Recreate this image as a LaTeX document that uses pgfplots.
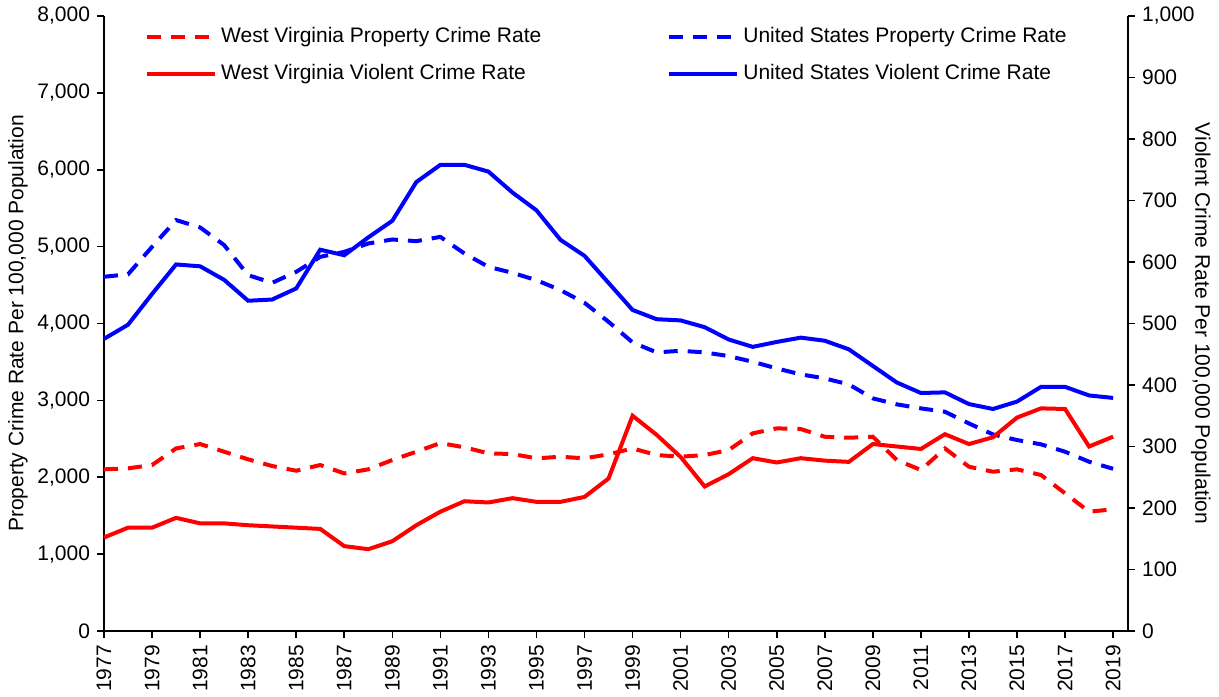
\documentclass[border=0pt]{standalone}
\usepackage{fontspec}
\setmainfont{Liberation Sans}
\usepackage{pgfplots}
\pgfplotsset{compat=1.18}
\usepackage{pgfplotstable}
\pgfplotstableread{
year wvp usp wvv usv
1977 2103 4608 152 475
1978 2116 4640 168 498
1979 2159 4997 168 548
1980 2375 5345 184 596
1981 2432 5250 175 593
1982 2332 5020 175 571
1983 2233 4629 172 537
1984 2146 4529 170 539
1985 2085 4672 168 557
1986 2159 4867 166 620
1987 2050 4932 138 611
1988 2103 5041 133 640
1989 2224 5093 146 667
1990 2332 5071 172 730
1991 2445 5127 194 758
1992 2389 4911 211 758
1993 2311 4737 209 747
1994 2302 4659 216 713
1995 2246 4564 210 684
1996 2267 4434 210 636
1997 2246 4269 218 610
1998 2298 4022 248 566
1999 2375 3754 350 522
2000 2289 3624 319 507
2001 2267 3645 283 505
2002 2289 3624 235 494
2003 2354 3576 255 474
2004 2571 3502 281 462
2005 2636 3416 274 470
2006 2627 3338 281 477
2007 2527 3286 277 472
2008 2514 3208 275 458
2009 2527 3026 304 431
2010 2224 2948 300 404
2011 2094 2896 296 387
2012 2375 2852 320 388
2013 2137 2700 304 369
2014 2072 2557 315 361
2015 2103 2484 347 373
2016 2029 2428 362 397
2017 1791 2332 361 397
2018 1552 2202 300 383
2019 1583 2110 316 379
}\data
\definecolor{cred}{RGB}{255,0,0}
\definecolor{cblue}{RGB}{0,0,255}
\pgfplotsset{
  common/.style={
    width=512pt, height=307.5pt, scale only axis,
    xmin=1977, xmax=2019.62, ymin=0,
    tick align=outside,
    major tick length=3.5pt,
    tick style={black, line width=0.8pt},
    axis line style={black, line width=1pt},
    /pgf/number format/assume math mode=true,
    tick label style={font=\fontsize{10.5}{12.6}\selectfont},
    label style={font=\fontsize{10.5}{12.6}\selectfont},
    scaled y ticks=false,
    clip=false,
  },
  pdash/.style={line width=2pt, dash pattern=on 7pt off 5pt},
  psolid/.style={line width=2pt},
}
\begin{document}
\begin{tikzpicture}
\begin{axis}[common, name=main,
  ymax=8000,
  axis x line*=bottom, axis y line*=left,
  xtick={1977,1979,...,2019},
  x tick label style={rotate=90, anchor=east, /pgf/number format/1000 sep={}},
  ytick distance=1000,
  y tick label style={/pgf/number format/1000 sep={,}},
  ylabel={Property Crime Rate Per 100,000 Population},
  ylabel style={at={(axis description cs:-0.084,0.5)}, anchor=center},
]
\addplot[cred, pdash] table[x=year, y=wvp] {\data};
\addplot[cblue, pdash] table[x=year, y=usp] {\data};
\end{axis}
\begin{axis}[common,
  ymax=1000,
  axis x line=none, axis y line*=right,
  ytick distance=100,
  y tick label style={/pgf/number format/1000 sep={,}},
  ylabel={Violent Crime Rate Per 100,000 Population},
  ylabel style={at={(axis description cs:1.071,0.5)}, anchor=center, rotate=180},
  legend columns=2,
  legend cell align=left,
  legend image code/.code={\draw[#1] (0pt,0pt) -- (34pt,0pt);},
  legend style={at={(axis description cs:0.034,0.995)}, anchor=north west,
    draw=none, fill=none, font=\fontsize{10.5}{12.6}\selectfont,
    row sep=5.5pt,
    /tikz/every even column/.append style={column sep=61pt}},
]
\addlegendimage{cred, pdash}
\addlegendentry{West Virginia Property Crime Rate}
\addlegendimage{cblue, pdash}
\addlegendentry{United States Property Crime Rate}
\addplot[cred, psolid] table[x=year, y=wvv] {\data};
\addlegendentry{West Virginia Violent Crime Rate}
\addplot[cblue, psolid] table[x=year, y=usv] {\data};
\addlegendentry{United States Violent Crime Rate}
\end{axis}
\pgfresetboundingbox
\path ([shift={(-52pt,-32.5pt)}]main.south west) rectangle ([shift={(45.5pt,8pt)}]main.north east);
\end{tikzpicture}
\end{document}
